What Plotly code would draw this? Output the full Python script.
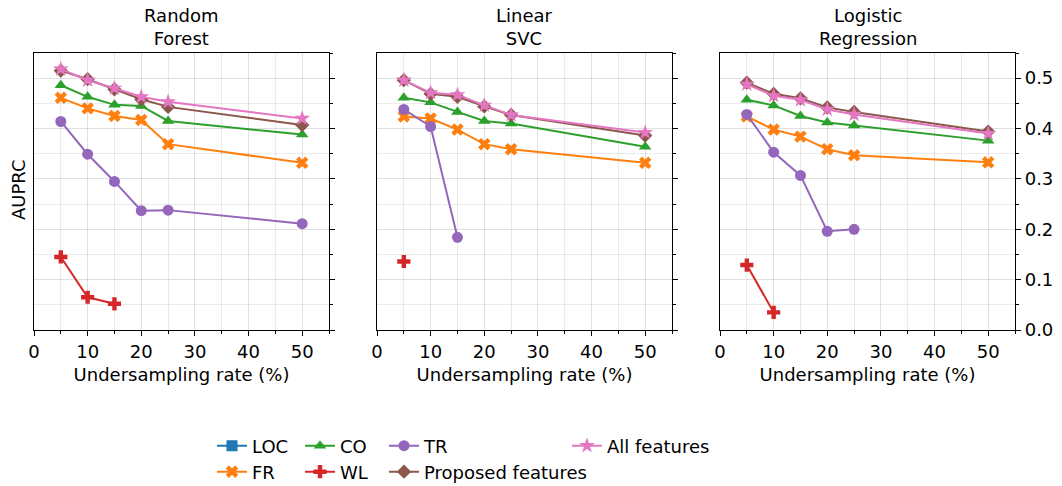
import plotly.graph_objects as go
from plotly.subplots import make_subplots

rates = [5, 10, 15, 20, 25, 50]
models = ["Random<br>Forest", "Linear<br>SVC", "Logistic<br>Regression"]

# values per model: [RF, SVC, LR]
loc = [[None]*6, [None]*6, [None]*6]
fr = [[0.461, 0.440, 0.425, 0.417, 0.369, 0.332],
      [0.424, 0.420, 0.398, 0.369, 0.359, 0.332],
      [0.424, 0.398, 0.384, 0.359, 0.347, 0.333]]
co = [[0.486, 0.463, 0.447, 0.445, 0.415, 0.388],
      [0.461, 0.452, 0.433, 0.415, 0.410, 0.364],
      [0.457, 0.446, 0.425, 0.412, 0.406, 0.376]]
wl = [[0.145, 0.065, 0.052, None, None, None],
      [0.136, None, None, None, None, None],
      [0.129, 0.035, None, None, None, None]]
tr = [[0.414, 0.349, 0.295, 0.237, 0.238, 0.211],
      [0.438, 0.404, 0.184, None, None, None],
      [0.428, 0.353, 0.307, 0.196, 0.200, None]]
proposed = [[0.515, 0.498, 0.478, 0.458, 0.443, 0.407],
            [0.496, 0.469, 0.463, 0.444, 0.427, 0.386],
            [0.491, 0.469, 0.460, 0.442, 0.433, 0.394]]
allf = [[0.518, 0.496, 0.480, 0.463, 0.453, 0.420],
        [0.496, 0.471, 0.467, 0.446, 0.427, 0.392],
        [0.488, 0.465, 0.457, 0.438, 0.428, 0.390]]

series = [
    ("LOC", loc, "#1f77b4", "square"),
    ("FR", fr, "#ff7f0e", "x"),
    ("CO", co, "#2ca02c", "triangle-up"),
    ("WL", wl, "#d62728", "cross"),
    ("TR", tr, "#9467bd", "circle"),
    ("Proposed features", proposed, "#8c564b", "diamond"),
    ("All features", allf, "#e377c2", "star"),
]

FONT = "DejaVu Sans"
FS = 18
W, H = 1062, 486
ml, mr, mt, mb = 34, 47, 53, 156
pw = W - ml - mr
ph = H - mt - mb

fig = make_subplots(rows=1, cols=3, subplot_titles=models, horizontal_spacing=0.05)

# legend positions (pixel) : left x, row center y
legpos = {
    "LOC": (212, 446), "FR": (212, 472),
    "CO": (300, 446), "WL": (300, 472),
    "TR": (384, 446), "Proposed features": (384, 472),
    "All features": (567, 446),
}

legend_layouts = {}
for i, (name, data, color, sym) in enumerate(series):
    lname = "legend" if i == 0 else f"legend{i+1}"
    px, py = legpos[name]
    legend_layouts[lname] = dict(
        x=(px - ml) / pw, y=(mt + ph - py) / ph, xanchor="left", yanchor="middle",
        orientation="v", bgcolor="rgba(0,0,0,0)", borderwidth=0,
        font=dict(family=FONT, size=FS, color="black"),
        itemwidth=30,
    )
    for c in range(3):
        fig.add_trace(go.Scatter(
            x=rates, y=data[c], name=name, mode="lines+markers",
            line=dict(color=color, width=2),
            marker=dict(symbol=sym, size=11 if sym != "star" else 12, color=color,
                        line=dict(width=0)),
            showlegend=(c == 0), legend=lname, connectgaps=False,
        ), row=1, col=c+1)

domains = [[0, (329 - ml) / pw], [(377 - ml) / pw, (672 - ml) / pw], [(720 - ml) / pw, 1.0]]
for c in range(3):
    xa = "xaxis" if c == 0 else f"xaxis{c+1}"
    ya = "yaxis" if c == 0 else f"yaxis{c+1}"
    fig.layout[xa].update(
        domain=domains[c], range=[0, 55], dtick=10, tick0=0,
        ticks="outside", ticklen=5, tickwidth=1.2, tickcolor="black",
        showline=True, linecolor="black", linewidth=1.2, mirror=True,
        showgrid=True, gridcolor="rgba(0,0,0,0.12)", gridwidth=1,
        zeroline=False,
        minor=dict(dtick=5, ticks="outside", ticklen=3, tickcolor="black", tickwidth=1,
                   showgrid=True, gridcolor="rgba(0,0,0,0.08)", gridwidth=1),
        tickfont=dict(family=FONT, size=FS, color="black"),
        title=dict(text="Undersampling rate (%)", font=dict(family=FONT, size=FS, color="black"),
                   standoff=7),
    )
    fig.layout[ya].update(
        range=[0, 0.55], dtick=0.1, tick0=0, side="right",
        ticks="outside", ticklen=5, tickwidth=1.2, tickcolor="black",
        showticklabels=(c == 2), tickformat=".1f",
        showline=True, linecolor="black", linewidth=1.2, mirror=True,
        showgrid=True, gridcolor="rgba(0,0,0,0.12)", gridwidth=1,
        zeroline=False,
        minor=dict(dtick=0.05, ticks="outside", ticklen=3, tickcolor="black", tickwidth=1,
                   showgrid=True, gridcolor="rgba(0,0,0,0.08)", gridwidth=1),
        tickfont=dict(family=FONT, size=FS, color="black"),
    )

for c, ann in enumerate(fig.layout.annotations):
    ann.font = dict(family=FONT, size=FS, color="black")
    ann.yshift = 2
    ann.x = (domains[c][0] + domains[c][1]) / 2

fig.add_annotation(text="AUPRC", xref="paper", yref="paper",
                   x=(18 - ml) / pw, y=(mt + ph - 190) / ph, textangle=-90,
                   showarrow=False, xanchor="center", yanchor="middle",
                   font=dict(family=FONT, size=FS, color="black"))

fig.update_layout(
    width=W, height=H,
    margin=dict(l=ml, r=mr, t=mt, b=mb, autoexpand=False),
    plot_bgcolor="white", paper_bgcolor="white",
    font=dict(family=FONT, size=FS, color="black"),
    **legend_layouts,
)

fig.write_html("out.html")
